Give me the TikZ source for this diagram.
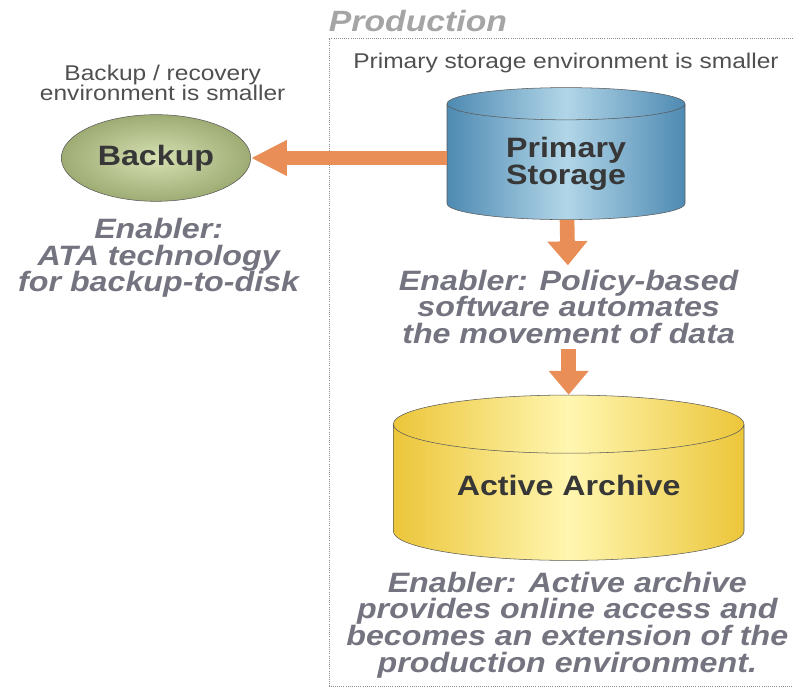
\documentclass[tikz,border=0pt]{standalone}
\usepackage{fontspec}
\setmainfont{Liberation Sans}[FakeStretch=1.15]
\usepackage{xcolor}
\usepackage{tikz}
\usetikzlibrary{shapes,arrows,arrows.meta}
\definecolor{arrowOrange}{RGB}{232,142,86}
\definecolor{enablerGray}{RGB}{116,116,128}
\definecolor{labelGray}{RGB}{55,55,55}
\definecolor{noteGray}{RGB}{80,80,80}
\definecolor{prodGray}{RGB}{165,165,165}
\tikzstyle{diskBlock} = [cylinder, shape border rotate=90, draw=black!65, aspect=0.25,
    align=center, text=labelGray, font=\fontsize{21}{19}\selectfont\bfseries]
\tikzstyle{primaryDisk} = [diskBlock, left color={rgb,255:red,78;green,138;blue,178}, right color={rgb,255:red,78;green,138;blue,178},
    middle color={rgb,255:red,178;green,214;blue,232}, minimum width=178.5pt, minimum height=99pt]
\tikzstyle{archiveDisk} = [diskBlock, left color={rgb,255:red,236;green,198;blue,58}, right color={rgb,255:red,236;green,198;blue,58},
    middle color={rgb,255:red,255;green,246;blue,176}, minimum width=263pt, minimum height=124pt, text depth=15pt]
\tikzstyle{cloud} = [draw=black!65, ellipse, inner color={rgb,255:red,214;green,224;blue,178}, outer color={rgb,255:red,158;green,172;blue,116},
    minimum width=142pt, minimum height=65pt, text=labelGray, font=\fontsize{21}{21}\selectfont\bfseries]
\tikzstyle{note} = [align=center, text=noteGray, font=\fontsize{16}{15}\selectfont]
\tikzstyle{enabler} = [align=center, text=enablerGray, font=\fontsize{21}{20}\selectfont\bfseries\itshape]
\tikzstyle{prodLabel} = [text=prodGray, font=\fontsize{22}{22}\selectfont\bfseries\itshape]
\tikzstyle{prodFrame} = [draw=black!45, densely dotted, line width=0.6pt]
\tikzstyle{fatline} = [draw=arrowOrange, line width=11pt, -{Triangle[length=18pt,width=29pt]}]

\begin{document}
\begin{tikzpicture}[x=0.75pt, y=0.75pt, node distance = 2cm, auto]
    \useasboundingbox (0,0) rectangle (793,688);
    % Place nodes
    \node [primaryDisk] at (566,524) (ps) {Primary\\Storage};
    \node [cloud, left of=ps, node distance=307.5pt, yshift=4.5pt] (backup) {Backup};
    \node [note, above of=backup, node distance=56.5pt, xshift=5pt] (backupNote) {Backup / recovery\\environment is smaller};
    \node [enabler, below of=backup, node distance=75pt, xshift=2pt] (ataEnabler) {Enabler:\\ATA technology\\for backup-to-disk};
    \node [note, above of=ps, node distance=75.75pt] (primaryNote) {Primary storage environment is smaller};
    \node [enabler, below of=ps, node distance=107.25pt, xshift=2pt] (policy) {Enabler: Policy-based\\software automates\\the movement of data};
    \node [archiveDisk, below of=policy, node distance=141.5pt] (aa) {Active Archive};
    \node [enabler, below of=policy, node distance=238.5pt, xshift=-1pt] (aaEnabler) {Enabler: Active archive\\provides online access and\\becomes an extension of the\\production environment.};
    \node [prodLabel] at (418,667) (prod) {Production};

    % Production frame
    \path [prodFrame] (793,650) -- (329,650) -- (329,2) -- (793,2);

    % Draw edges
    \path [fatline, line width=10pt, -{Triangle[length=27pt,width=25pt]}] (ps.west |- backup.east) -- (backup.east);
    \path [fatline] (ps) -- (policy);
    \path [fatline] (policy) -- (aa);
\end{tikzpicture}
\end{document}
